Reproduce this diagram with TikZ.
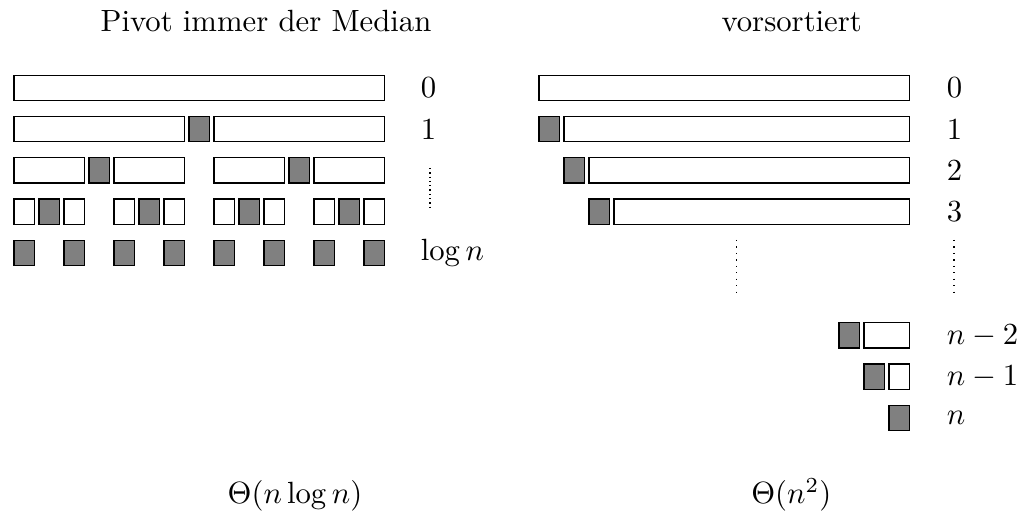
\documentclass[tikz,border=0pt]{standalone}
\begin{document}
\begin{tikzpicture}[x=0.3257pt,y=-0.3257pt,
  elem/.style={draw=black,fill=white,line width=0.4pt},
  piv/.style={draw=black,fill=gray,line width=0.4pt},
  lbl/.style={anchor=west,inner sep=3.33pt},
  ttl/.style={anchor=base,inner sep=0pt},
  ldots/.style={line width=0.4pt,dash pattern=on 0.4pt off 1pt},
  rdots/.style={line width=0.4pt,dash pattern=on 0.4pt off 1.7pt}]
\useasboundingbox (0,0) rectangle (1023,516);
\newcommand\qsbox[5]{\draw[#5] ({#1+25*#3},{75.3+41.25*#2}) rectangle ({#1+25*#4+20.7},{75.3+41.25*#2+25.3});}
% left: pivot always the median
\qsbox{14}{0}{0}{14}{elem}
\qsbox{14}{1}{0}{6}{elem}\qsbox{14}{1}{7}{7}{piv}\qsbox{14}{1}{8}{14}{elem}
\qsbox{14}{2}{0}{2}{elem}\qsbox{14}{2}{3}{3}{piv}\qsbox{14}{2}{4}{6}{elem}
\qsbox{14}{2}{8}{10}{elem}\qsbox{14}{2}{11}{11}{piv}\qsbox{14}{2}{12}{14}{elem}
\foreach \k in {0,4,8,12}{
  \pgfmathtruncatemacro\ka{\k+1}\pgfmathtruncatemacro\kb{\k+2}
  \qsbox{14}{3}{\k}{\k}{elem}\qsbox{14}{3}{\ka}{\ka}{piv}\qsbox{14}{3}{\kb}{\kb}{elem}}
\foreach \k in {0,2,...,14}{\qsbox{14}{4}{\k}{\k}{piv}}
% right: presorted
\qsbox{539}{0}{0}{14}{elem}
\foreach \r in {1,2,3}{
  \pgfmathtruncatemacro\ra{\r-1}
  \qsbox{539}{\r}{\ra}{\ra}{piv}\qsbox{539}{\r}{\r}{14}{elem}}
\qsbox{539}{6}{12}{12}{piv}\qsbox{539}{6}{13}{14}{elem}
\qsbox{539}{7}{13}{13}{piv}\qsbox{539}{7}{14}{14}{elem}
\qsbox{539}{8}{14}{14}{piv}
% labels left
\node[lbl] (l0) at (410,87.95) {$0$};
\node[lbl] (l1) at (410,129.2) {$1$};
\node[lbl] (l4) at (410,252.95) {$\log n$};
\coordinate (ld1) at (430,168);
\coordinate (ld2) at (430,210);
\draw[ldots] (ld1) -- (ld2);
% labels right
\node[lbl] (r0) at (936,87.95) {$0$};
\node[lbl] (r1) at (936,129.2) {$1$};
\node[lbl] (r2) at (936,170.45) {$2$};
\node[lbl] (r3) at (936,211.7) {$3$};
\node[lbl] (r6) at (936,335.45) {$n-2$};
\node[lbl] (r7) at (936,376.7) {$n-1$};
\node[lbl] (r8) at (936,417.95) {$n$};
\coordinate (rd1) at (736.7,240);
\coordinate (rd2) at (736.7,298);
\coordinate (rd3) at (954,240);
\coordinate (rd4) at (954,298);
\draw[rdots] (rd1) -- (rd2);
\draw[rdots] (rd3) -- (rd4);
% titles
\node[ttl] (tl) at (266,31.7) {Pivot immer der Median};
\node[ttl] (tr) at (791.7,31.7) {vorsortiert};
\node[ttl] (bl) at (295,503.3) {$\Theta(n\log n)$};
\node[ttl] (br) at (791.3,503.3) {$\Theta(n^2)$};
\end{tikzpicture}
\end{document}
